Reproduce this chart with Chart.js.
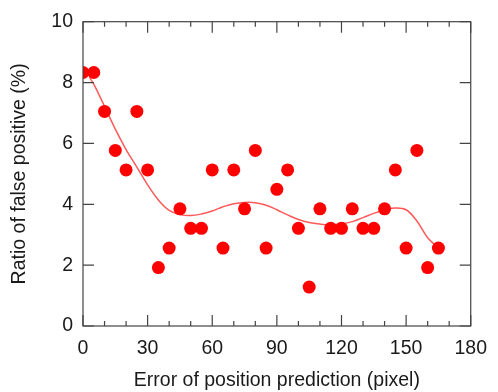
<!DOCTYPE html>
<html>
<head>
<meta charset="utf-8">
<script src="https://cdn.jsdelivr.net/npm/chart.js@4"></script>
<style>
  html, body { margin: 0; padding: 0; background: #fff; }
  #wrap { width: 498px; height: 392px; }
</style>
</head>
<body>
<div id="wrap"><canvas id="c"></canvas></div>
<script>
// ── data ──
const errorPx = [0, 5, 10, 15, 20, 25, 30, 35, 40, 45, 50, 55, 60, 65, 70, 75, 80,
  85, 90, 95, 100, 105, 110, 115, 120, 125, 130, 135, 140, 145, 150, 155, 160, 165];
const falsePos = [8.33, 8.33, 7.05, 5.77, 5.13, 7.05, 5.13, 1.92, 2.56, 3.85, 3.21, 3.21, 5.13, 2.56, 5.13, 3.85, 5.77,
  2.56, 4.49, 5.13, 3.21, 1.28, 3.85, 3.21, 3.21, 3.85, 3.21, 3.21, 3.85, 5.13, 2.56, 5.77, 1.92, 2.56];

// fitted trend line
const fitX = [3, 5, 10, 15, 20, 25, 30, 35, 40, 45, 50, 55, 60, 65, 70, 75, 80, 85, 90,
  95, 100, 105, 110, 115, 120, 125, 130, 135, 140, 145, 150, 155, 160, 165];
const fitY = [8.17, 7.95, 7.22, 6.47, 5.8, 5.22, 4.64, 4.14, 3.8, 3.66, 3.63, 3.68, 3.78, 3.92, 4.02, 4.06, 4.05, 3.97, 3.82,
  3.65, 3.5, 3.4, 3.35, 3.33, 3.36, 3.43, 3.56, 3.7, 3.81, 3.88, 3.82, 3.45, 2.9, 2.56];

const xTicks = [0, 30, 60, 90, 120, 150, 180];
const xMinor = [10, 20, 40, 50, 70, 80, 100, 110, 130, 140, 160, 170];
const yTicks = [0, 2, 4, 6, 8, 10];

const FONT = "'Liberation Sans', Arial, sans-serif";
const INK = '#1a1a1a';
const AXIS = '#444';

// frame + inward tick marks (gnuplot style)
const frame = {
  id: 'frame',
  afterDraw(chart) {
    const { ctx, chartArea: a, scales } = chart;
    ctx.save();
    ctx.strokeStyle = AXIS;
    ctx.lineWidth = 1.2;
    ctx.strokeRect(a.left, a.top, a.right - a.left, a.bottom - a.top);
    ctx.beginPath();
    xTicks.forEach(v => {
      const px = scales.x.getPixelForValue(v);
      ctx.moveTo(px, a.bottom); ctx.lineTo(px, a.bottom - 11);
      ctx.moveTo(px, a.top); ctx.lineTo(px, a.top + 11);
    });
    xMinor.forEach(v => {
      const px = scales.x.getPixelForValue(v);
      ctx.moveTo(px, a.bottom); ctx.lineTo(px, a.bottom - 5);
      ctx.moveTo(px, a.top); ctx.lineTo(px, a.top + 5);
    });
    yTicks.forEach(v => {
      const py = scales.y.getPixelForValue(v);
      ctx.moveTo(a.left, py); ctx.lineTo(a.left + 11, py);
      ctx.moveTo(a.right, py); ctx.lineTo(a.right - 11, py);
    });
    ctx.stroke();
    ctx.restore();
  }
};

new Chart(document.getElementById('c'), {
  data: {
    datasets: [
      {
        type: 'scatter',
        data: errorPx.map((x, i) => ({ x, y: falsePos[i] })),
        backgroundColor: '#ff0000',
        borderColor: '#ff0000',
        pointRadius: 6.5,
        borderWidth: 0,
        order: 1
      },
      {
        type: 'line',
        data: fitX.map((x, i) => ({ x, y: fitY[i] })),
        borderColor: '#ff5a5a',
        borderWidth: 1.5,
        pointRadius: 0,
        fill: false,
        tension: 0.4,
        order: 2
      }
    ]
  },
  options: {
    responsive: true,
    maintainAspectRatio: false,
    animation: false,
    layout: { padding: { top: 20, right: 26, left: 0, bottom: 0 } },
    plugins: { legend: { display: false }, tooltip: { enabled: false } },
    scales: {
      x: {
        type: 'linear',
        min: 0, max: 180,
        afterBuildTicks: s => { s.ticks = xTicks.map(v => ({ value: v })); },
        afterFit: s => { s.height = 66; },
        grid: { display: false, drawTicks: false },
        border: { display: false },
        ticks: { color: INK, font: { family: FONT, size: 19.5 }, padding: 11, maxRotation: 0 },
        title: {
          display: true,
          text: 'Error of position prediction (pixel)',
          color: INK,
          font: { family: FONT, size: 19.5 },
          padding: { top: 0, bottom: 0 }
        }
      },
      y: {
        min: 0, max: 10,
        afterBuildTicks: s => { s.ticks = yTicks.map(v => ({ value: v })); },
        afterFit: s => { s.width = 83; },
        grid: { display: false, drawTicks: false },
        border: { display: false },
        ticks: { color: INK, font: { family: FONT, size: 19.5 }, padding: 10 },
        title: {
          display: true,
          text: 'Ratio of false positive (%)',
          color: INK,
          font: { family: FONT, size: 19.5 },
          padding: { top: 8, bottom: 0 }
        }
      }
    }
  },
  plugins: [frame]
});
</script>
</body>
</html>
